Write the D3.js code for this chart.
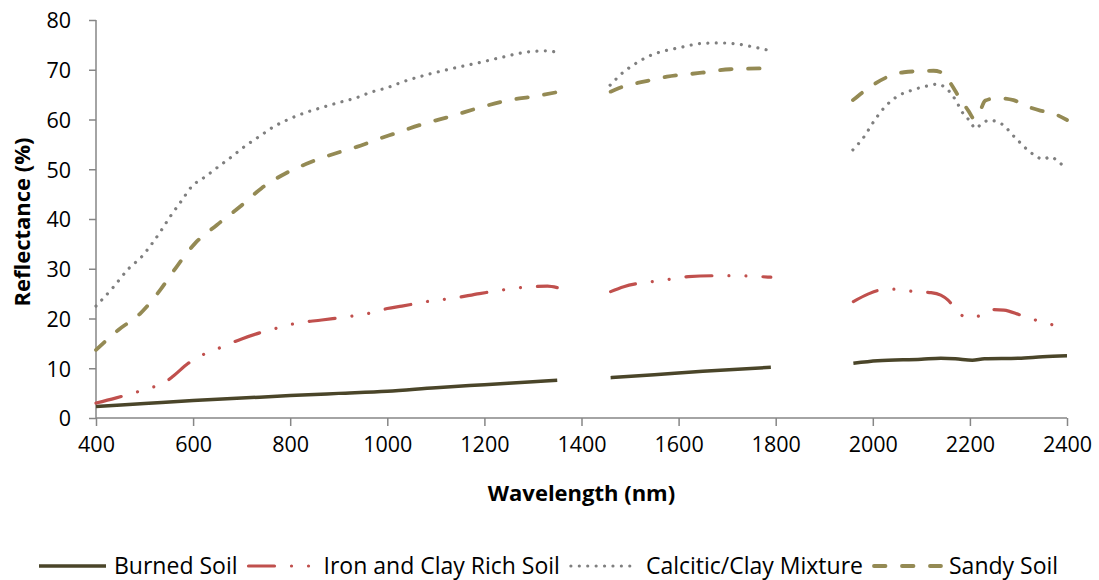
<!DOCTYPE html>
<html>
<head>
<meta charset="utf-8">
<script src="https://cdn.jsdelivr.net/npm/d3@7"></script>
<style>
  html, body { margin: 0; padding: 0; background: #fff; }
  svg { display: block; }
  text { font-family: "Open Sans", "Noto Sans", sans-serif; fill: #000; }
</style>
</head>
<body>
<svg id="chart" width="1099" height="580"></svg>
<script>
// Soil reflectance spectra, [wavelength nm, reflectance %]; null marks a gap
// (water absorption bands are left out of the record).
const burnedSoil = [
  [400,2.3],[500,2.9],[600,3.5],[700,4.0],[800,4.5],[900,4.95],[1000,5.4],[1100,6.1],
  [1200,6.7],[1300,7.3],[1350,7.6], null,
  [1460,8.1],[1550,8.7],[1650,9.4],[1790,10.2], null,
  [1960,11.0],[2010,11.5],[2100,11.8],[2140,12.0],[2170,11.9],[2205,11.6],[2230,11.9],
  [2300,12.0],[2350,12.3],[2400,12.5]
];
const ironClaySoil = [
  [400,3.0],[440,4.0],[480,5.1],[510,6.0],[540,7.0],[560,8.5],[590,11.0],[620,12.7],
  [650,13.9],[700,15.9],[740,17.2],[770,18.0],[810,19.0],[865,19.7],[935,20.6],[970,21.2],
  [1000,22.0],[1030,22.5],[1095,23.6],[1130,24.0],[1190,25.0],[1257,26.0],[1300,26.4],
  [1330,26.5],[1350,26.2], null,
  [1460,25.4],[1487,26.4],[1520,27.1],[1555,27.5],[1590,28.0],[1620,28.4],[1680,28.6],
  [1720,28.6],[1750,28.5],[1790,28.3], null,
  [1960,23.4],[1990,24.9],[2015,25.7],[2048,25.9],[2085,25.4],[2120,25.2],[2140,24.7],
  [2155,23.7],[2168,22.2],[2193,20.2],[2218,20.5],[2250,21.8],[2270,21.7],[2304,20.7],
  [2338,19.6],[2371,18.7],[2400,17.9]
];
const calciticClay = [
  [400,22.5],[434,26.1],[468,30.1],[493,32.3],[515,35.0],[535,37.8],[555,40.8],[575,43.5],
  [597,46.5],[625,48.5],[652,50.5],[682,52.7],[708,54.7],[738,56.7],[767,58.6],[798,60.1],
  [832,61.4],[865,62.4],[900,63.4],[934,64.3],[967,65.5],[1000,66.4],[1033,67.6],[1085,69.1],
  [1136,70.3],[1188,71.4],[1240,72.6],[1290,73.6],[1327,73.8],[1350,73.5], null,
  [1459,66.9],[1485,69.4],[1514,71.4],[1545,73.0],[1580,74.0],[1600,74.4],[1648,75.3],
  [1682,75.4],[1719,75.2],[1753,74.6],[1790,73.8], null,
  [1959,53.9],[1981,56.4],[2002,59.6],[2022,62.2],[2048,64.5],[2081,65.9],[2115,66.8],
  [2132,67.1],[2147,66.6],[2170,64.0],[2186,61.2],[2201,59.6],[2211,58.2],[2225,59.2],
  [2241,59.9],[2258,59.4],[2273,58.6],[2283,57.4],[2297,56.0],[2321,53.7],[2335,52.7],
  [2351,52.0],[2366,52.5],[2382,51.5],[2398,50.2]
];
const sandySoil = [
  [400,13.7],[446,17.7],[491,21.0],[532,25.7],[566,30.4],[604,35.1],[649,38.8],[697,42.5],
  [741,46.2],[793,49.3],[844,51.5],[903,53.5],[937,54.5],[985,56.2],[1016,57.2],[1074,59.1],
  [1133,60.7],[1191,62.4],[1246,63.8],[1305,64.7],[1350,65.5], null,
  [1460,65.6],[1485,66.6],[1528,67.6],[1576,68.6],[1648,69.4],[1706,70.1],[1790,70.3], null,
  [1959,63.9],[1995,66.6],[2029,68.5],[2064,69.5],[2125,69.8],[2143,69.4],[2160,67.3],
  [2177,64.6],[2198,61.6],[2208,60.2],[2215,60.5],[2232,63.8],[2256,64.3],[2290,63.9],
  [2311,62.9],[2345,61.8],[2366,61.4],[2400,59.9]
];

const seriesNames = ["Burned Soil", "Iron and Clay Rich Soil", "Calcitic/Clay Mixture", "Sandy Soil"];
const xTicks = [400, 600, 800, 1000, 1200, 1400, 1600, 1800, 2000, 2200, 2400];
const yTicks = [0, 10, 20, 30, 40, 50, 60, 70, 80];

const series = [
  { name: seriesNames[0], data: burnedSoil,   color: "#4a4529", width: 3.5, dash: null },
  { name: seriesNames[1], data: ironClaySoil, color: "#c0504d", width: 3.2, dash: "26 17 0.01 17 0.01 17" },
  { name: seriesNames[2], data: calciticClay, color: "#7f7f7f", width: 3.2, dash: "0.01 8.4" },
  { name: seriesNames[3], data: sandySoil,    color: "#948a54", width: 3.8, dash: "11.5 16.5" }
];

const svg = d3.select("#chart");
const plot = { left: 96, right: 1067, top: 20, bottom: 418 };

const x = d3.scaleLinear().domain([400, 2400]).range([plot.left, plot.right]);
const y = d3.scaleLinear().domain([0, 80]).range([plot.bottom, plot.top]);

const axisColor = "#868686";

// Y axis
const yAxis = svg.append("g")
  .attr("transform", `translate(${plot.left},0)`)
  .call(d3.axisLeft(y).tickValues(yTicks).tickSize(7).tickPadding(18).tickFormat(d3.format("d")));
// X axis
const xAxis = svg.append("g")
  .attr("transform", `translate(0,${plot.bottom})`)
  .call(d3.axisBottom(x).tickValues(xTicks).tickSize(8).tickPadding(11).tickFormat(d3.format("d")));

[yAxis, xAxis].forEach(g => {
  g.select(".domain").attr("stroke", axisColor).attr("stroke-width", 1.5);
  g.selectAll(".tick line").attr("stroke", axisColor).attr("stroke-width", 1.5);
  g.selectAll(".tick text").style("font-size", "21.5px").attr("fill", "#000")
    .style("font-family", '"Open Sans", sans-serif');
});
yAxis.selectAll(".tick text").attr("dy", "0.36em");
xAxis.select(".domain").attr("d", `M${plot.left},0H${plot.right}`);
yAxis.select(".domain").attr("d", `M0,${plot.top}V${plot.bottom}`);

// Axis titles
svg.append("text")
  .attr("x", (plot.left + plot.right) / 2)
  .attr("y", 501)
  .attr("text-anchor", "middle")
  .style("font-size", "22px")
  .style("font-weight", "bold")
  .text("Wavelength (nm)");

svg.append("text")
  .attr("transform", `translate(30,222) rotate(-90)`)
  .attr("text-anchor", "middle")
  .style("font-size", "22px")
  .style("font-weight", "bold")
  .text("Reflectance (%)");

// Spectra
const line = d3.line()
  .defined(d => d !== null)
  .x(d => x(d[0]))
  .y(d => y(d[1]))
  .curve(d3.curveMonotoneX);

series.forEach(s => {
  svg.append("path")
    .datum(s.data)
    .attr("fill", "none")
    .attr("stroke", s.color)
    .attr("stroke-width", s.width)
    .attr("stroke-linecap", s.dash ? "round" : "butt")
    .attr("stroke-linejoin", "round")
    .attr("stroke-dasharray", s.dash)
    .attr("d", line);
});

// Legend
const legend = svg.append("g").attr("transform", "translate(38,566)");
let cursor = 0;
series.forEach(s => {
  legend.append("line")
    .attr("x1", cursor + 1).attr("x2", cursor + 68)
    .attr("y1", 0).attr("y2", 0)
    .attr("stroke", s.color)
    .attr("stroke-width", s.width)
    .attr("stroke-linecap", s.dash ? "round" : "butt")
    .attr("stroke-dasharray", s.dash);
  const t = legend.append("text")
    .attr("x", cursor + 76)
    .attr("y", 0)
    .attr("dy", "0.36em")
    .style("font-size", "23px")
    .text(s.name);
  cursor += 76 + t.node().getComputedTextLength() + 10;
});
</script>
</body>
</html>
